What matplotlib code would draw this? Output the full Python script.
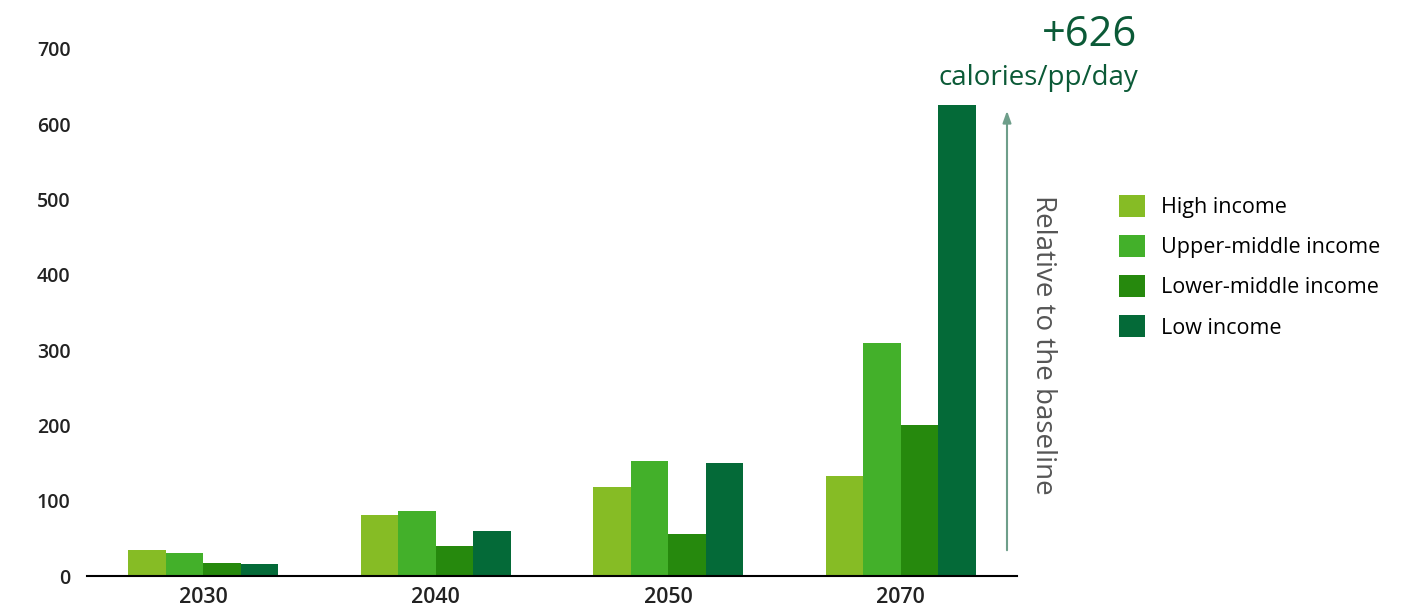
import matplotlib
matplotlib.use('Agg')
import matplotlib.pyplot as plt
import numpy as np

plt.rcParams['font.family'] = ['Open Sans', 'DejaVu Sans']

# 单位：卡路里/人/天（相对基线）
years = ['2030', '2040', '2050', '2070']
groups = ['High income', 'Upper-middle income', 'Lower-middle income', 'Low income']
high_income = [35, 81, 118, 133]
upper_middle = [31, 87, 153, 309]
lower_middle = [17, 40, 56, 200]
low_income = [16, 60, 150, 626]
colors = ['#86BC25', '#43B02A', '#26890D', '#046A38']
yticks = [0, 100, 200, 300, 400, 500, 600, 700]

fig = plt.figure(figsize=(14.18, 6.12), dpi=100)
ax = fig.add_axes([0.0614, 0.0588, 0.6558, 0.8612])

x = np.arange(len(years))
w = 0.161
series = [high_income, upper_middle, lower_middle, low_income]
for i, (vals, name) in enumerate(zip(series, groups)):
    ax.bar(x + (i - 1.5) * w, vals, w, color=colors[i], label=name, linewidth=0)

ax.set_xlim(-0.5, 3.5)
ax.set_ylim(0, 700)
ax.set_xticks(x)
ax.set_xticklabels(years)
ax.set_yticks(yticks)
ax.tick_params(axis='both', length=0, colors='#222222')
ax.tick_params(axis='y', pad=12, labelsize=14)
ax.tick_params(axis='x', pad=8, labelsize=15.5)
for lab in ax.get_xticklabels() + ax.get_yticklabels():
    lab.set_fontweight('semibold')
for s in ['top', 'right', 'left']:
    ax.spines[s].set_visible(False)
ax.spines['bottom'].set_color('black')
ax.spines['bottom'].set_linewidth(1.5)

# 箭头和说明文字
ax.annotate('', xy=(1007 / 1418, 1 - 108 / 612), xytext=(1007 / 1418, 1 - 553 / 612),
            xycoords='figure fraction', textcoords='figure fraction',
            arrowprops=dict(arrowstyle='-|>,head_length=0.7,head_width=0.25',
                            color='#6E9E8A', lw=1.5))
fig.text(1043 / 1418, 1 - 345 / 612, 'Relative to the baseline', rotation=-90,
         ha='center', va='center', fontsize=20, color='#555555')
fig.text(1137 / 1418, 1 - 35 / 612, '+%d' % low_income[-1], ha='right', va='center',
         fontsize=30, color='#0B5A37')
fig.text(1138 / 1418, 1 - 78 / 612, 'calories/pp/day', ha='right', va='center',
         fontsize=20, color='#0B5A37')

fig.legend(loc='upper left', bbox_to_anchor=(1119 / 1418, 1 - 195 / 612),
           frameon=False, fontsize=15.5, handlelength=1.2, handleheight=1.2,
           handletextpad=0.75, labelspacing=0.78, borderpad=0, borderaxespad=0)

fig.savefig('out.png', dpi=100)
